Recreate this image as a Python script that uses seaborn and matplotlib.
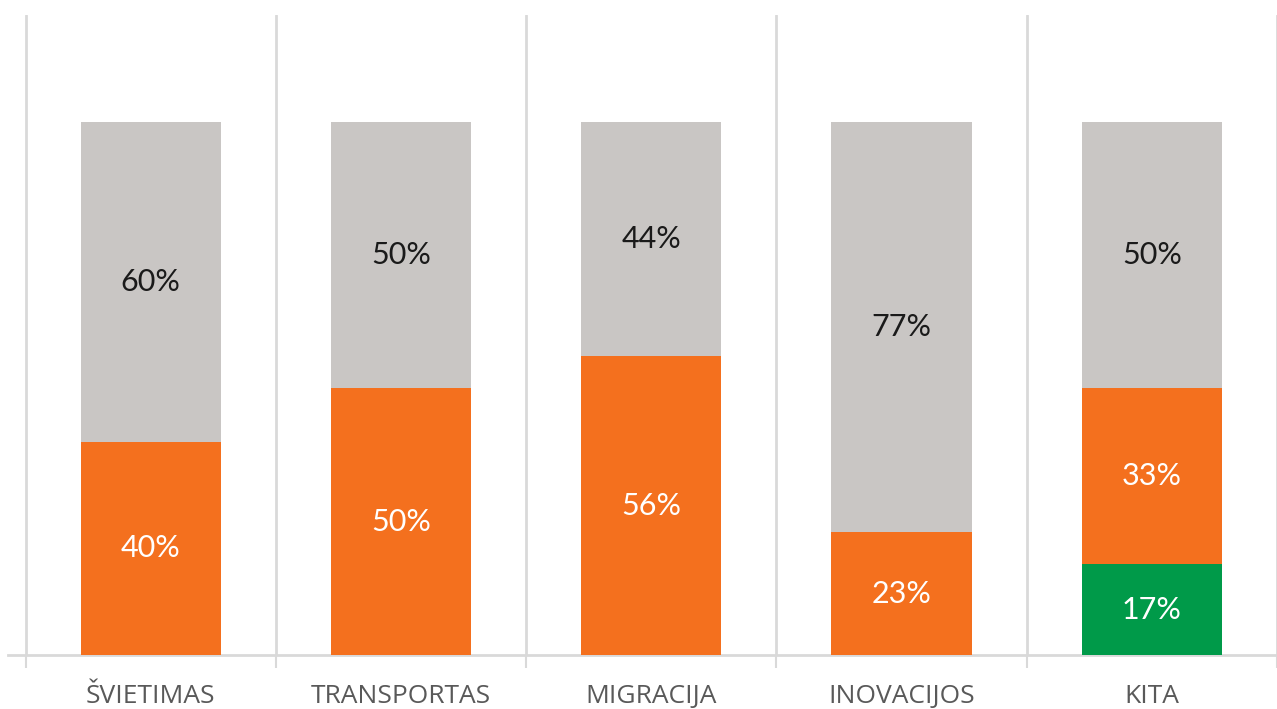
import matplotlib
matplotlib.use("Agg")
import matplotlib.pyplot as plt
import seaborn as sns
import pandas as pd
import numpy as np

categories = ["ŠVIETIMAS", "TRANSPORTAS", "MIGRACIJA", "INOVACIJOS", "KITA"]
gray_vals = [60, 50, 44, 77, 50]
orange_vals = [40, 50, 56, 23, 33]
green_vals = [0, 0, 0, 0, 17]

GRAY = "#C9C6C4"
ORANGE = "#F4701E"
GREEN = "#009A49"
GRID = "#D9D9D9"

sns.set_theme(style="white")
plt.rcParams["font.family"] = ["Lato", "DejaVu Sans"]

df = pd.DataFrame({
    "cat": categories,
    "green": green_vals,
    "orange": orange_vals,
    "gray": gray_vals,
})
df["orange_top"] = df["green"] + df["orange"]
df["gray_top"] = df["orange_top"] + df["gray"]

fig = plt.figure(figsize=(12.77, 7.09), dpi=100)
ax = fig.add_axes([8 / 1277, 54 / 709, 1269 / 1277, 640 / 709])

W = 0.56
sns.barplot(data=df, x="cat", y="gray_top", color=GRAY, width=W, saturation=1, ax=ax, zorder=2)
sns.barplot(data=df, x="cat", y="orange_top", color=ORANGE, width=W, saturation=1, ax=ax, zorder=3)
sns.barplot(data=df, x="cat", y="green", color=GREEN, width=W, saturation=1, ax=ax, zorder=4)

for p in ax.patches:
    p.set_edgecolor("none")
    p.set_linewidth(0)

ax.set_ylim(0, 120)
ax.set_xlim(-0.57, 4.45)

fs = 22
for i in range(len(categories)):
    g, o, gr = df.loc[i, "green"], df.loc[i, "orange"], df.loc[i, "gray"]
    if g > 0:
        ax.text(i, g / 2, f"{g}%", ha="center", va="center", color="white",
                fontsize=fs, zorder=6)
    if o > 0:
        ax.text(i, g + o / 2, f"{o}%", ha="center", va="center", color="white",
                fontsize=fs, zorder=6)
    if gr > 0:
        ax.text(i, g + o + gr / 2, f"{gr}%", ha="center", va="center", color="#1a1a1a",
                fontsize=fs, zorder=6)

ax.set_xlabel("")
ax.set_ylabel("")
ax.set_yticks([])
ax.set_xticks(range(len(categories)))
ax.set_xticklabels(categories, fontsize=19, color="#595959",
                   fontfamily=["Open Sans", "DejaVu Sans"])
ax.tick_params(axis="x", which="major", length=0, pad=21)
bounds = np.arange(len(categories) + 1) - 0.5
ax.set_xticks(bounds, minor=True)
ax.tick_params(axis="x", which="minor", length=9, width=1.5, color=GRID, direction="out", bottom=True)
ax.grid(False)
ax.xaxis.grid(True, which="minor", color=GRID, linewidth=2)
ax.set_axisbelow(True)

for s in ["top", "right", "left"]:
    ax.spines[s].set_visible(False)
ax.spines["bottom"].set_color(GRID)
ax.spines["bottom"].set_linewidth(2)

fig.savefig("out.png", dpi=100, facecolor="white")
